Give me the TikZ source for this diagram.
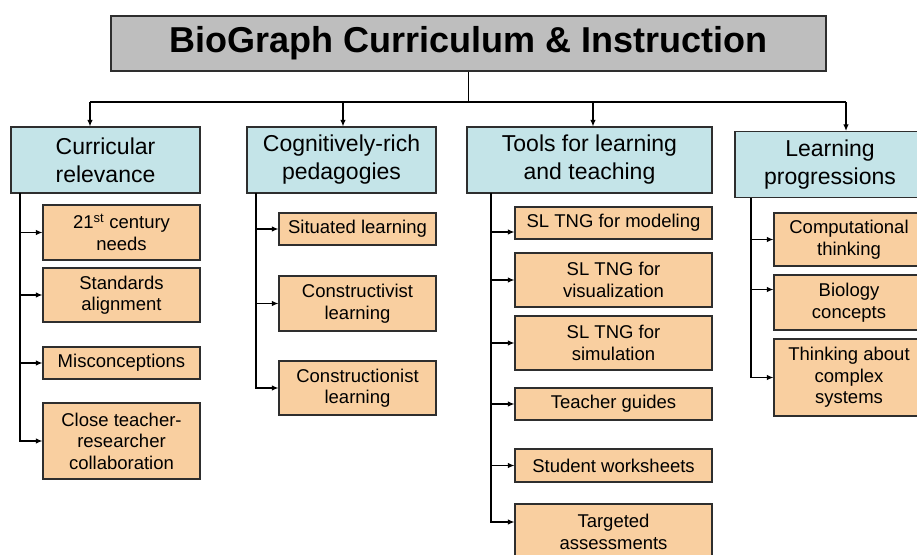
\documentclass[tikz,border=0pt]{standalone}
\usepackage{fontspec}
\setmainfont{Liberation Sans}
\usetikzlibrary{arrows.meta}
\definecolor{TitleGray}{HTML}{BEBEBE}
\definecolor{SoftTeal}{HTML}{C4E4E8}
\definecolor{SoftPeach}{HTML}{F9CFA0}
\definecolor{EdgeGray}{HTML}{2E2E2E}

\begin{document}
\begin{tikzpicture}[x=1pt, y=-1pt,
  headbox/.style={draw=EdgeGray, line width=1.3pt, fill=TitleGray, minimum width=715pt,
    minimum height=55pt, inner sep=0pt, font=\fontsize{36}{40}\selectfont\bfseries},
  areabox/.style={draw=EdgeGray, line width=1.1pt, fill=SoftTeal, minimum height=66pt,
    align=center, inner sep=0pt, font=\fontsize{23}{28}\selectfont},
  itembox/.style={draw=EdgeGray, line width=1.1pt, fill=SoftPeach, align=center,
    inner sep=0pt, minimum height=#1, font=\fontsize{18.5}{21.5}\selectfont},
  itembox/.default=32pt,
  flow/.style={-{Latex[length=2.3mm,width=1.9mm]}, line width=1.1pt, draw=black}
]
\useasboundingbox (0,0) rectangle (917,554);

% title and the four areas
\node[headbox] (title) at (468.5,43.5) {\raisebox{-3pt}{BioGraph Curriculum \& Instruction}};
\node[areabox, minimum width=189pt] (relevance) at (105.5,160) {Curricular\\relevance};
\node[areabox, minimum width=189pt] (pedagogy) at (341.5,160) {Cognitively-rich\\pedagogies};
\node[areabox, minimum width=245pt] (tools) at (589.5,160) {Tools for learning\\and teaching};
\node[areabox, minimum width=190pt] (progress) at (830,164.5) {Learning\\progressions};

\coordinate (drop1) at (90,102);
\coordinate (drop2) at (343,102);
\coordinate (drop3) at (593,102);
\coordinate (drop4) at (846,102);
\draw[line width=1.1pt] (title.south) -- (title.south |- drop1);
\draw[line width=1.1pt] (drop1) -- (drop4);
\draw[flow] (drop1) -- (drop1 |- relevance.north);
\draw[flow] (drop2) -- (drop2 |- pedagogy.north);
\draw[flow] (drop3) -- (drop3 |- tools.north);
\draw[flow] (drop4) -- (drop4 |- progress.north);

% curricular relevance
\node[itembox=55pt, minimum width=157pt] (needs) at (121.5,232.5) {21\textsuperscript{st} century\\needs};
\node[itembox=54pt, minimum width=157pt] (standards) at (121.5,295) {Standards\\alignment};
\node[itembox, minimum width=157pt] (miscon) at (121.5,363) {Misconceptions};
\node[itembox=76pt, minimum width=157pt] (collab) at (121.5,441) {Close teacher-\\researcher\\collaboration};

% cognitively-rich pedagogies
\node[itembox, minimum width=157pt] (situated) at (357.5,229) {Situated learning};
\node[itembox=55pt, minimum width=157pt] (constructivist) at (357.5,303.5) {Constructivist\\learning};
\node[itembox=54pt, minimum width=157pt] (constructionist) at (357.5,388) {Constructionist\\learning};

% tools for learning and teaching
\node[itembox, minimum width=197pt] (modeling) at (613.5,223) {SL TNG for modeling};
\node[itembox=54pt, minimum width=197pt] (visual) at (613.5,280) {SL TNG for\\visualization};
\node[itembox=54pt, minimum width=197pt] (simul) at (613.5,343) {SL TNG for\\simulation};
\node[itembox, minimum width=197pt] (guides) at (613.5,404) {Teacher guides};
\node[itembox=33pt, minimum width=197pt] (sheets) at (613.5,465.5) {Student worksheets};
\node[itembox=56pt, minimum width=197pt] (assess) at (613.5,532) {Targeted\\assessments};

% learning progressions
\node[itembox=53pt, minimum width=150pt] (computing) at (849,239.5) {Computational\\thinking};
\node[itembox=55pt, minimum width=150pt] (biology) at (849,302.5) {Biology\\concepts};
\node[itembox=77pt, minimum width=150pt] (complex) at (849,377.5) {Thinking about\\complex\\systems};

% trunks down the left of each area
\coordinate (trunk1) at (20,193);
\coordinate (trunk2) at (256,193);
\coordinate (trunk3) at (491,193);
\coordinate (trunk4) at (751,198);
\draw[flow] (trunk1) |- (needs.west);
\draw[flow] (trunk1) |- (standards.west);
\draw[flow] (trunk1) |- (miscon.west);
\draw[flow] (trunk1) |- (collab.west);
\draw[flow] (trunk2) |- (situated.west);
\draw[flow] (trunk2) |- (constructivist.west);
\draw[flow] (trunk2) |- (constructionist.west);
\draw[flow] (trunk3) |- ([yshift=-9pt]modeling.west);
\draw[flow] (trunk3) |- (visual.west);
\draw[flow] (trunk3) |- (simul.west);
\draw[flow] (trunk3) |- (guides.west);
\draw[flow] (trunk3) |- (sheets.west);
\draw[flow] (trunk3) |- ([yshift=10pt]assess.west);
\draw[flow] (trunk4) |- (computing.west);
\draw[flow] (trunk4) |- ([yshift=13pt]biology.west);
\draw[flow] (trunk4) |- (complex.west);
\end{tikzpicture}
\end{document}
